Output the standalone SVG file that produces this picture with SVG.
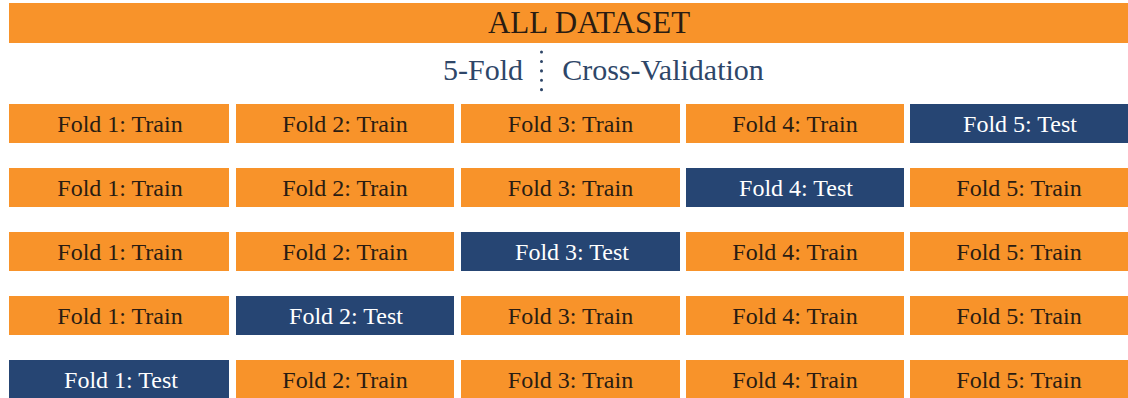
<svg xmlns="http://www.w3.org/2000/svg" width="1128" height="398" viewBox="0 0 1128 398">
<style>
text{font-family:'Liberation Serif','Times New Roman',Tinos,'DejaVu Serif',serif}
.tr{fill:#F8932A}
.te{fill:#264573}
.lbl{font-size:24px;text-anchor:middle}
.dk{fill:#2a1c12}
.wt{fill:#ffffff}
.sub{font-size:30px;text-anchor:middle;fill:#2E4668}
</style>
<rect width="1128" height="398" fill="#ffffff"/>
<g id="all-dataset">
<rect class="tr" x="9" y="3" width="1119" height="40"/>
<text x="589" y="33" font-size="31" text-anchor="middle" fill="#2a1c12">ALL DATASET</text>
</g>
<g id="subtitle">
<text class="sub" x="483" y="80">5-Fold</text>
<line x1="541.5" y1="52" x2="541.5" y2="90" stroke="#2E4668" stroke-width="3" stroke-linecap="round" stroke-dasharray="0.1 9.3"/>
<text class="sub" x="663" y="80" font-size="31">Cross-Validation</text>
</g>
<g id="row1">
<g id="r1c1"><rect class="tr" x="9" y="104" width="220" height="39"/><text class="lbl dk" x="120" y="132">Fold 1: Train</text></g>
<g id="r1c2"><rect class="tr" x="236" y="104" width="218" height="39"/><text class="lbl dk" x="345" y="132">Fold 2: Train</text></g>
<g id="r1c3"><rect class="tr" x="461" y="104" width="219" height="39"/><text class="lbl dk" x="570.5" y="132">Fold 3: Train</text></g>
<g id="r1c4"><rect class="tr" x="686" y="104" width="218" height="39"/><text class="lbl dk" x="795" y="132">Fold 4: Train</text></g>
<g id="r1c5"><rect class="te" x="910" y="104" width="218" height="39"/><text class="lbl wt" x="1020" y="132">Fold 5: Test</text></g>
</g>
<g id="row2">
<g id="r2c1"><rect class="tr" x="9" y="168" width="220" height="39"/><text class="lbl dk" x="120" y="196">Fold 1: Train</text></g>
<g id="r2c2"><rect class="tr" x="236" y="168" width="218" height="39"/><text class="lbl dk" x="345" y="196">Fold 2: Train</text></g>
<g id="r2c3"><rect class="tr" x="461" y="168" width="219" height="39"/><text class="lbl dk" x="570.5" y="196">Fold 3: Train</text></g>
<g id="r2c4"><rect class="te" x="686" y="168" width="218" height="39"/><text class="lbl wt" x="796" y="196">Fold 4: Test</text></g>
<g id="r2c5"><rect class="tr" x="910" y="168" width="218" height="39"/><text class="lbl dk" x="1019" y="196">Fold 5: Train</text></g>
</g>
<g id="row3">
<g id="r3c1"><rect class="tr" x="9" y="232" width="220" height="39"/><text class="lbl dk" x="120" y="260">Fold 1: Train</text></g>
<g id="r3c2"><rect class="tr" x="236" y="232" width="218" height="39"/><text class="lbl dk" x="345" y="260">Fold 2: Train</text></g>
<g id="r3c3"><rect class="te" x="461" y="232" width="219" height="39"/><text class="lbl wt" x="572" y="260">Fold 3: Test</text></g>
<g id="r3c4"><rect class="tr" x="686" y="232" width="218" height="39"/><text class="lbl dk" x="795" y="260">Fold 4: Train</text></g>
<g id="r3c5"><rect class="tr" x="910" y="232" width="218" height="39"/><text class="lbl dk" x="1019" y="260">Fold 5: Train</text></g>
</g>
<g id="row4">
<g id="r4c1"><rect class="tr" x="9" y="296" width="220" height="39"/><text class="lbl dk" x="120" y="324">Fold 1: Train</text></g>
<g id="r4c2"><rect class="te" x="236" y="296" width="218" height="39"/><text class="lbl wt" x="346" y="324">Fold 2: Test</text></g>
<g id="r4c3"><rect class="tr" x="461" y="296" width="219" height="39"/><text class="lbl dk" x="570.5" y="324">Fold 3: Train</text></g>
<g id="r4c4"><rect class="tr" x="686" y="296" width="218" height="39"/><text class="lbl dk" x="795" y="324">Fold 4: Train</text></g>
<g id="r4c5"><rect class="tr" x="910" y="296" width="218" height="39"/><text class="lbl dk" x="1019" y="324">Fold 5: Train</text></g>
</g>
<g id="row5">
<g id="r5c1"><rect class="te" x="9" y="360" width="220" height="39"/><text class="lbl wt" x="121" y="388">Fold 1: Test</text></g>
<g id="r5c2"><rect class="tr" x="236" y="360" width="218" height="39"/><text class="lbl dk" x="345" y="388">Fold 2: Train</text></g>
<g id="r5c3"><rect class="tr" x="461" y="360" width="219" height="39"/><text class="lbl dk" x="570.5" y="388">Fold 3: Train</text></g>
<g id="r5c4"><rect class="tr" x="686" y="360" width="218" height="39"/><text class="lbl dk" x="795" y="388">Fold 4: Train</text></g>
<g id="r5c5"><rect class="tr" x="910" y="360" width="218" height="39"/><text class="lbl dk" x="1019" y="388">Fold 5: Train</text></g>
</g>
</svg>
